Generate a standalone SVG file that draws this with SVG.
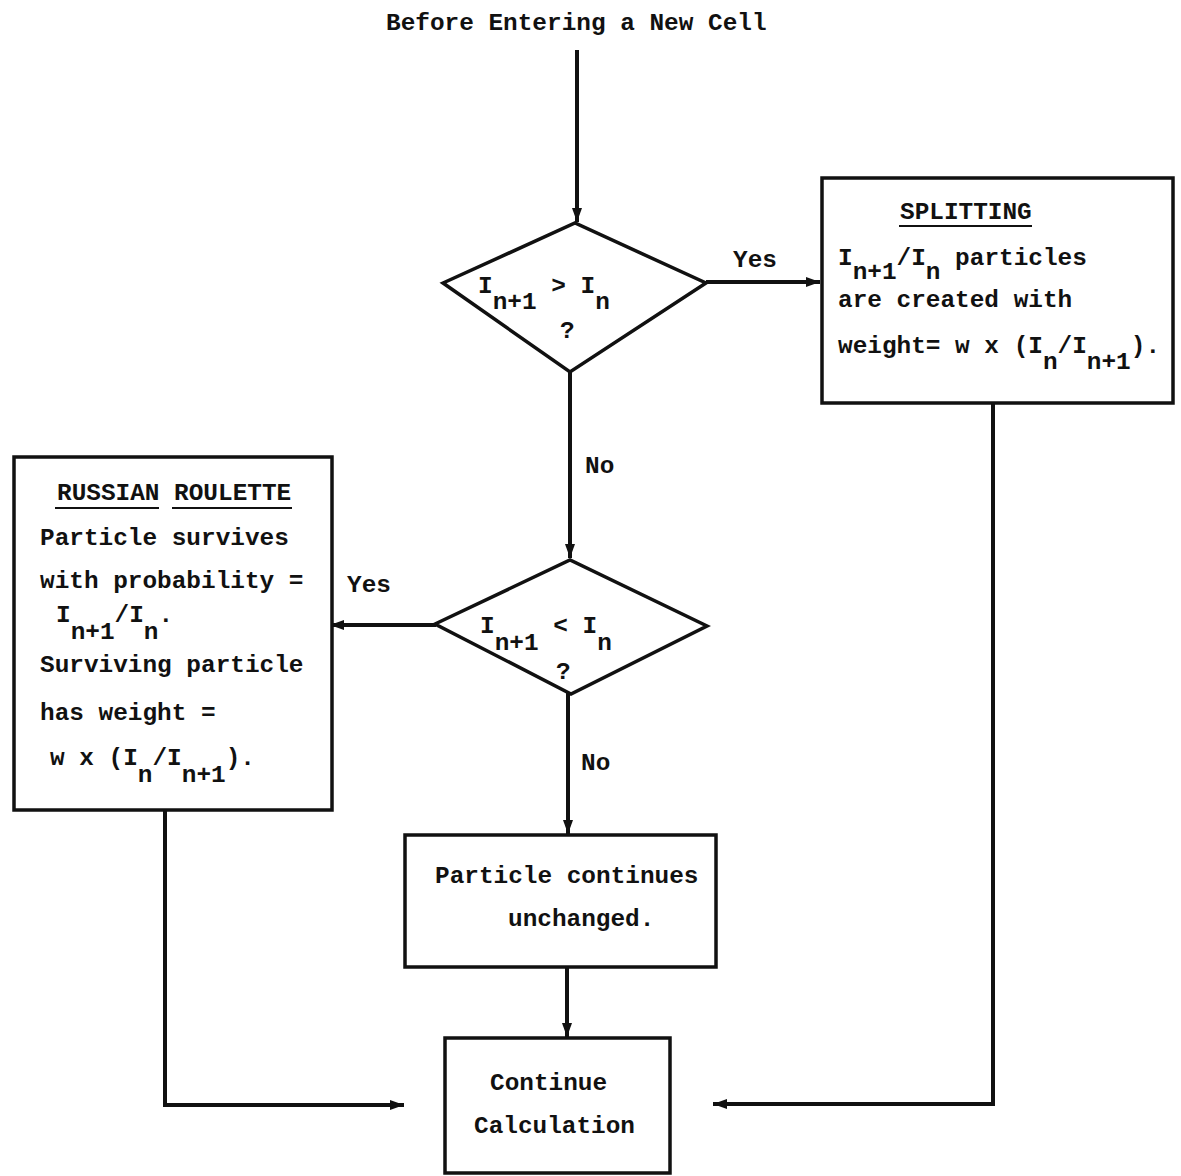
<svg xmlns="http://www.w3.org/2000/svg" width="1181" height="1176" viewBox="0 0 1181 1176">
  <style>
    .t { font-family: "Liberation Mono", "Courier New", monospace; font-size: 24.4px; font-weight: bold; fill: #111; white-space: pre; }
    .box { fill: #fff; stroke: #111; stroke-width: 3.5; stroke-linejoin: miter; }
    .ul { stroke: #111; stroke-width: 2; }
    .edge { fill: none; stroke: #111; stroke-width: 4; stroke-linejoin: miter; }
  </style>
  <defs>
    <marker id="arrow" viewBox="0 0 14 10" refX="14" refY="5" markerWidth="14" markerHeight="10" markerUnits="userSpaceOnUse" orient="auto">
      <path d="M0,0 L14,5 L0,10 z" fill="#111"/>
    </marker>
  </defs>
  <rect width="1181" height="1176" fill="#fff"/>

  <text class="t" x="386" y="30">Before Entering a New Cell</text>

  <!-- connectors -->
  <g id="connectors">
    <path class="edge" d="M577,50 V222" marker-end="url(#arrow)"/>
    <path class="edge" d="M706,282 H820" marker-end="url(#arrow)"/>
    <path class="edge" d="M570,372 V558" marker-end="url(#arrow)"/>
    <path class="edge" d="M436,625 H330" marker-end="url(#arrow)"/>
    <path class="edge" d="M568,692 V834" marker-end="url(#arrow)"/>
    <path class="edge" d="M567,967 V1037" marker-end="url(#arrow)"/>
    <path class="edge" d="M165,810 V1105 H404" marker-end="url(#arrow)"/>
    <path class="edge" d="M993,403 V1104 H713" marker-end="url(#arrow)"/>
    <text class="t" x="733" y="267">Yes</text>
    <text class="t" x="585" y="473">No</text>
    <text class="t" x="347" y="592">Yes</text>
    <text class="t" x="581" y="770">No</text>
  </g>

  <!-- decision: I(n+1) > I(n) -->
  <g id="decision-greater">
    <polygon class="box" points="443,283 575,223 706,283 570,372"/>
    <text class="t" x="478" y="293">I<tspan dy="16">n+1</tspan><tspan dy="-16"> &gt; I</tspan><tspan dy="16">n</tspan></text>
    <text class="t" x="560" y="338">?</text>
  </g>

  <!-- splitting -->
  <g id="splitting">
    <rect class="box" x="822" y="178" width="351" height="225"/>
    <text class="t" x="900" y="219">SPLITTING</text>
    <line class="ul" x1="899" y1="226" x2="1032" y2="226"/>
    <text class="t" x="838" y="265">I<tspan dy="14">n+1</tspan><tspan dy="-14">/I</tspan><tspan dy="14">n</tspan><tspan dy="-14"> particles</tspan></text>
    <text class="t" x="838" y="307">are created with</text>
    <text class="t" x="838" y="353">weight= w x (I<tspan dy="16">n</tspan><tspan dy="-16">/I</tspan><tspan dy="16">n+1</tspan><tspan dy="-16">).</tspan></text>
  </g>

  <!-- decision: I(n+1) < I(n) -->
  <g id="decision-less">
    <polygon class="box" points="435,624 570,560 707,626 571,694"/>
    <text class="t" x="480" y="633">I<tspan dy="17">n+1</tspan><tspan dy="-17"> &lt; I</tspan><tspan dy="17">n</tspan></text>
    <text class="t" x="556" y="679">?</text>
  </g>

  <!-- russian roulette -->
  <g id="russian-roulette">
    <rect class="box" x="14" y="457" width="318" height="353"/>
    <text class="t" x="57" y="500">RUSSIAN ROULETTE</text>
    <line class="ul" x1="55" y1="508" x2="159" y2="508"/>
    <line class="ul" x1="172" y1="508" x2="292" y2="508"/>
    <text class="t" x="40" y="545">Particle survives</text>
    <text class="t" x="40" y="588">with probability =</text>
    <text class="t" x="56" y="622">I<tspan dy="17">n+1</tspan><tspan dy="-17">/I</tspan><tspan dy="17">n</tspan><tspan dy="-17">.</tspan></text>
    <text class="t" x="40" y="672">Surviving particle</text>
    <text class="t" x="40" y="720">has weight =</text>
    <text class="t" x="50" y="765">w x (I<tspan dy="17">n</tspan><tspan dy="-17">/I</tspan><tspan dy="17">n+1</tspan><tspan dy="-17">).</tspan></text>
  </g>

  <!-- particle continues -->
  <g id="unchanged">
    <rect class="box" x="405" y="835" width="311" height="132"/>
    <text class="t" x="435" y="883">Particle continues</text>
    <text class="t" x="508" y="926">unchanged.</text>
  </g>

  <!-- continue calculation -->
  <g id="continue">
    <rect class="box" x="445" y="1038" width="225" height="135"/>
    <text class="t" x="490" y="1090">Continue</text>
    <text class="t" x="474" y="1133">Calculation</text>
  </g>
</svg>
